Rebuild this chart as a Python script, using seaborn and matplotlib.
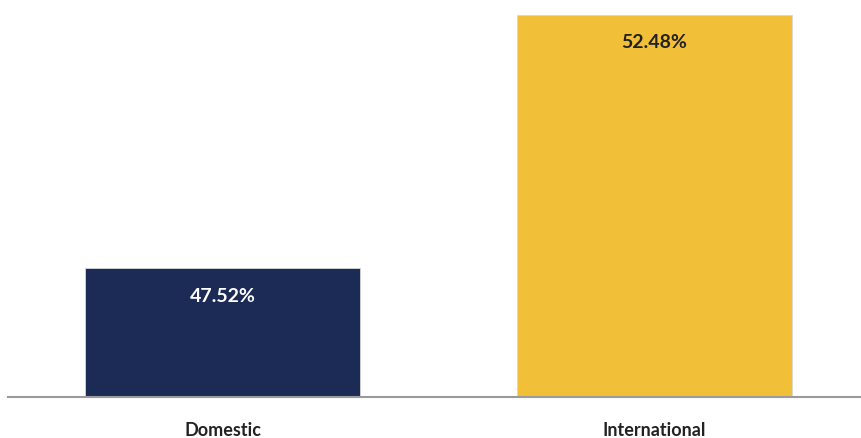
import pandas as pd
import seaborn as sns
import matplotlib.pyplot as plt

categories = ["Domestic", "International"]
shares = [47.52, 52.48]
bar_colors = ["#1c2b55", "#f2bf38"]
label_colors = ["white", "#222222"]

sns.set_theme(style="white")
plt.rcParams['font.family'] = ['Lato', 'DejaVu Sans']

df = pd.DataFrame({"market": categories, "share": shares})

fig = plt.figure(figsize=(8.61, 4.39), dpi=100)
ax = fig.add_axes([8 / 861, 1 - 398 / 439, 1 - 8 / 861, 398 / 439])

sns.barplot(data=df, x="market", y="share", hue="market",
            palette=bar_colors, saturation=1, width=0.637, legend=False,
            ax=ax, edgecolor="#d8d8d8", linewidth=0.6)

ax.set_ylim(45, 52.79)
ax.set_xlim(-0.498, 1.479)

for i, (v, c) in enumerate(zip(shares, label_colors)):
    ax.text(i, v - 0.36, f"{v:.2f}%", ha="center", va="top",
            color=c, fontsize=14, fontweight="bold")

ax.set_xlabel("")
ax.set_ylabel("")
ax.set_yticks([])
ax.tick_params(axis="x", length=0, pad=17, labelsize=13, colors="#222222")
for lab in ax.get_xticklabels():
    lab.set_fontweight("bold")

for s in ["top", "right", "left"]:
    ax.spines[s].set_visible(False)
ax.spines["bottom"].set_color("#9a9a9a")
ax.spines["bottom"].set_linewidth(1.5)

fig.savefig("out.png", dpi=100)
